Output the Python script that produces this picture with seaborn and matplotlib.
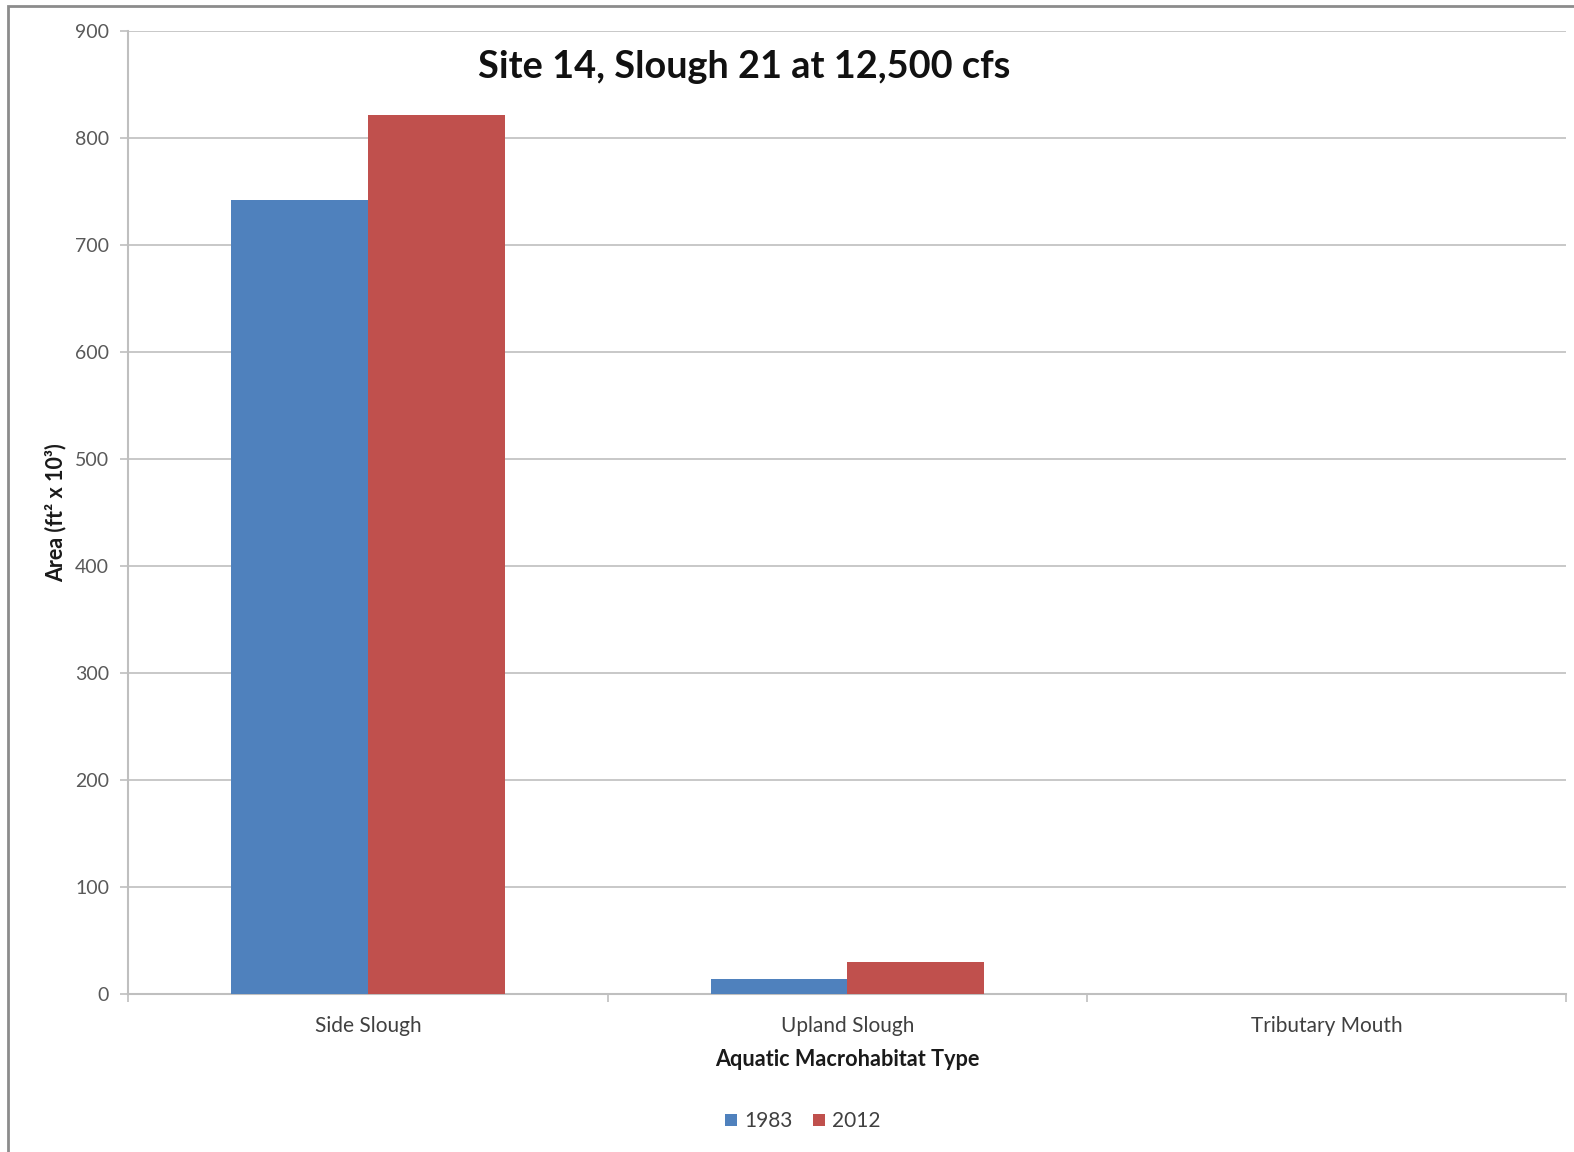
import matplotlib
matplotlib.use("Agg")
import matplotlib.pyplot as plt
import seaborn as sns
import pandas as pd
from matplotlib.patches import Rectangle

categories = ["Side Slough", "Upland Slough", "Tributary Mouth"]
years = ["1983", "2012"]
values_1983 = [742, 14, 0]
values_2012 = [822, 30, 0]
yticks = [0, 100, 200, 300, 400, 500, 600, 700, 800, 900]

df = pd.DataFrame({
    "Aquatic Macrohabitat Type": categories * 2,
    "Year": [years[0]] * 3 + [years[1]] * 3,
    "Area": values_1983 + values_2012,
})

sns.set_theme(style="white")
plt.rcParams["font.family"] = ["Lato", "DejaVu Sans"]

fig = plt.figure(figsize=(15.74, 11.52), dpi=100)
ax = fig.add_axes([0.0816, 0.1373, 0.9133, 0.8357])

palette = {"1983": "#4F81BD", "2012": "#C0504D"}
sns.barplot(data=df, x="Aquatic Macrohabitat Type", y="Area", hue="Year",
            palette=palette, width=0.57, saturation=1, ax=ax, zorder=3,
            linewidth=0)

ax.set_ylim(0, 900)
ax.set_xlim(-0.5, 2.5)
ax.set_yticks(yticks)
ax.set_yticklabels([str(t) for t in yticks])
ax.yaxis.grid(True, color="#BFBFBF", linewidth=1.2, zorder=0)
ax.set_axisbelow(True)
for s in ["top", "right"]:
    ax.spines[s].set_visible(False)
ax.spines["left"].set_color("#BFBFBF")
ax.spines["bottom"].set_color("#BFBFBF")
ax.spines["left"].set_linewidth(1.5)
ax.spines["bottom"].set_linewidth(1.5)

ax.tick_params(axis="y", which="major", length=6, color="#BFBFBF", width=1.2,
               labelsize=14, labelcolor="#595959", pad=8, left=True)
ax.set_xticks([0, 1, 2])
ax.set_xticklabels(categories)
ax.set_xticks([-0.5, 0.5, 1.5, 2.5], minor=True)
ax.tick_params(axis="x", which="major", length=0, labelsize=15,
               labelcolor="#404040", pad=16)
ax.tick_params(axis="x", which="minor", length=6, color="#BFBFBF", width=1.2,
               bottom=True)

ax.set_xlabel("Aquatic Macrohabitat Type", fontsize=15.6, fontweight="bold",
              color="#1a1a1a", labelpad=9)
ax.set_ylabel("Area (ft² x 10³)", fontsize=15.5, fontweight="bold",
              color="#1a1a1a", labelpad=6)

fig.text(0.473, 0.942, "Site 14, Slough 21 at 12,500 cfs", fontsize=27.3,
         fontweight="bold", ha="center", va="center", color="#111111")

handles, labels = ax.get_legend_handles_labels()
ax.get_legend().remove()
fig.legend(handles, labels, loc="center", bbox_to_anchor=(0.51, 0.0265),
           ncol=2, frameon=False, fontsize=15, handlelength=0.55,
           handleheight=0.55, handletextpad=0.35, columnspacing=1.0,
           labelcolor="#404040")

fig.patches.append(Rectangle((8 / 1574, -0.05), 1.2, 1.05 - 6 / 1152,
                             transform=fig.transFigure, fill=False,
                             edgecolor="#8c8c8c", linewidth=2))

fig.savefig("out.png", dpi=100, facecolor="white")
